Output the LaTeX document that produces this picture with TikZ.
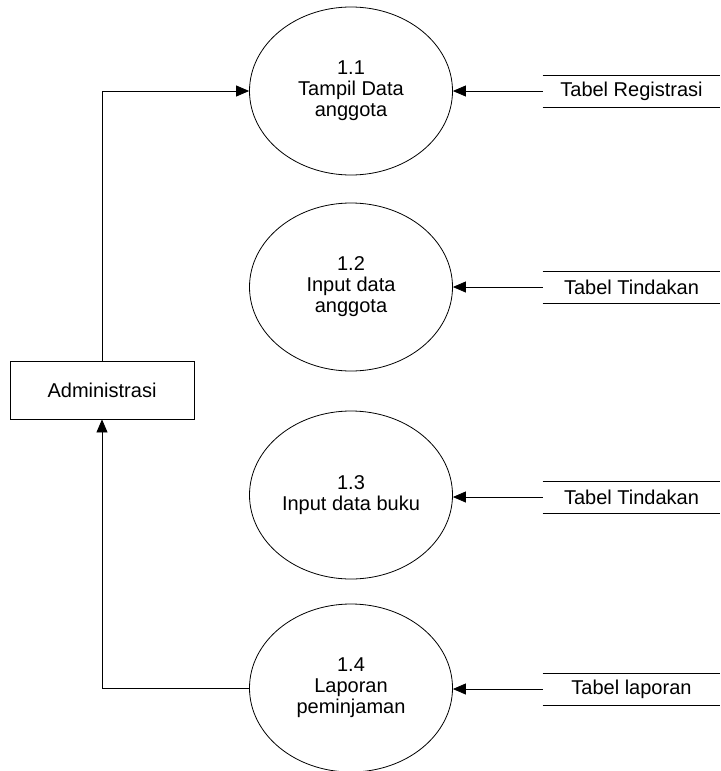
\documentclass[tikz,border=0pt]{standalone}
\usepackage{fontspec}
\setmainfont{Liberation Sans}
\usetikzlibrary{shapes.geometric, arrows.meta, positioning}

\begin{document}
\begin{tikzpicture}[
    x=0.5pt, y=-0.5pt,
    font=\fontsize{10}{10.5}\selectfont,
    proc/.style={ellipse, draw, minimum width=101.5pt, minimum height=84pt, inner sep=0pt, align=center},
    entity/.style={rectangle, draw, minimum width=92pt, minimum height=29pt},
    store/.style={minimum width=88.5pt, minimum height=15.5pt, inner sep=0pt,
        append after command={(\tikzlastnode.north west) edge (\tikzlastnode.north east)
                              (\tikzlastnode.south west) edge (\tikzlastnode.south east)}},
    arrow/.style={-{Triangle[length=6.5pt, width=5.5pt]}}
]
    \useasboundingbox (0,0) rectangle (720,771);

    \node[proc] (p1) at (351,91) {1.1\\Tampil Data\\anggota};
    \node[proc] (p2) at (351,287) {1.2\\Input data\\anggota};
    \node[proc] (p3) at (351,495) {1.3\\Input data buku};
    \node[proc] (p4) at (351,688) {1.4\\Laporan\\peminjaman};

    \node[entity] (admin) at (102,390) {Administrasi};

    \node[store] (reg) at (631.5,91) {Tabel Registrasi};
    \node[store] (tind1) at (631.5,287) {Tabel Tindakan};
    \node[store] (tind2) at (631.5,497) {Tabel Tindakan};
    \node[store] (lap) at (631.5,689) {Tabel laporan};

    \draw[arrow] (admin.north) |- (p1.west);
    \draw[arrow] (p4.west) -| (admin.south);

    \draw[arrow] (reg.west) -- (p1.east);
    \draw[arrow] (tind1.west) -- (p2.east);
    \draw[arrow] (tind2.west) -- (p3.east |- tind2.west);
    \draw[arrow] (lap.west) -- (p4.east |- lap.west);
\end{tikzpicture}
\end{document}
